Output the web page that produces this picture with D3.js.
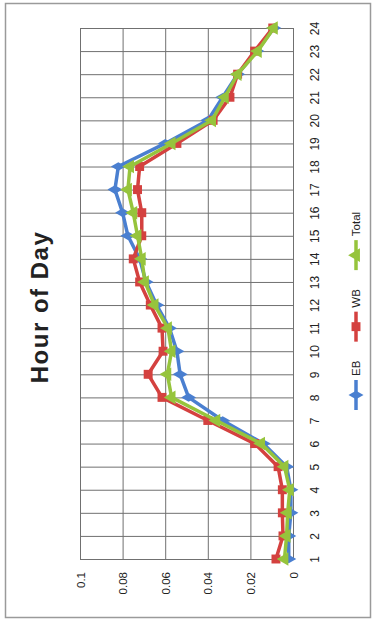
<!DOCTYPE html>
<html>
<head>
<meta charset="utf-8">
<script src="https://cdn.jsdelivr.net/npm/d3@7"></script>
<style>
  html, body { margin: 0; padding: 0; background: #fff; }
  svg { display: block; }
  text { font-family: "Liberation Sans", Arial, sans-serif; fill: #222; }
</style>
</head>
<body>
<svg id="chart" width="376" height="622"></svg>
<script>
// ---- data ----
const hours = [1,2,3,4,5,6,7,8,9,10,11,12,13,14,15,16,17,18,19,20,21,22,23,24];
const valueTicks = [0, 0.02, 0.04, 0.06, 0.08, 0.1];
const seriesNames = ["EB", "WB", "Total"];
const ebValues    = [0.002,0.002,0.001,0.001,0.003,0.014,0.033,0.049,0.053,0.0545,0.058,0.064,0.069,0.072,0.0775,0.080,0.0836,0.082,0.060,0.040,0.033,0.026,0.017,0.009];
const wbValues    = [0.008,0.0047,0.005,0.005,0.007,0.018,0.040,0.0615,0.068,0.061,0.0615,0.067,0.072,0.075,0.071,0.071,0.073,0.072,0.0545,0.0375,0.0296,0.026,0.018,0.0095];
const totalValues = [0.004,0.003,0.0025,0.0015,0.004,0.015,0.036,0.057,0.059,0.057,0.0587,0.065,0.0695,0.071,0.073,0.075,0.0775,0.0765,0.057,0.038,0.032,0.026,0.0165,0.009];
const titleText = "Hour of Day";

// ---- layout (chart is drawn rotated 90° counter-clockwise) ----
const svg = d3.select("#chart");
const plot = { left: 80, right: 293, top: 28, bottom: 559 };
const colors = ["#4a7fd0", "#d4413f", "#96c43c"];
const symbols = [d3.symbolDiamond, d3.symbolSquare, d3.symbolTriangle];
const symSizes = [65, 80, 80];

const x = d3.scaleLinear().domain([0, 0.1]).range([plot.right, plot.left]);
const y = d3.scalePoint().domain(hours).range([plot.bottom, plot.top]);

// outer border
svg.append("rect")
  .attr("x", 5.5).attr("y", 3.5).attr("width", 365).attr("height", 614)
  .attr("fill", "#fff").attr("stroke", "#9a9a9a").attr("stroke-width", 1.5);

// grid lines (vertical = value grid, horizontal = hour grid)
const gx = svg.append("g")
  .attr("transform", `translate(0,${plot.bottom})`)
  .call(d3.axisBottom(x).tickValues(valueTicks).tickSize(-(plot.bottom - plot.top)).tickFormat(""));
gx.select(".domain").remove();
gx.selectAll("line").attr("stroke", "#707070").attr("stroke-width", 1);

const gy = svg.append("g")
  .attr("transform", `translate(${plot.left},0)`)
  .call(d3.axisRight(y).tickSize(plot.right - plot.left).tickFormat(""));
gy.select(".domain").remove();
gy.selectAll("line").attr("stroke", "#707070").attr("stroke-width", 1);

// value axis labels (bottom, rotated)
const ax = svg.append("g")
  .attr("transform", `translate(0,${plot.bottom})`)
  .call(d3.axisBottom(x).tickValues(valueTicks).tickSize(0).tickFormat(d => d === 0 ? "0" : d3.format("~g")(d)));
ax.select(".domain").remove();
ax.selectAll("text")
  .attr("x", 0).attr("y", 0).attr("dy", "0.35em")
  .attr("transform", "translate(0,13) rotate(-90)")
  .attr("text-anchor", "end")
  .style("font-size", "11.5px").attr("fill", "#222");

// hour axis labels (right, rotated)
const ay = svg.append("g")
  .attr("transform", `translate(${plot.right},0)`)
  .call(d3.axisRight(y).tickSize(0));
ay.select(".domain").remove();
ay.selectAll("text")
  .attr("x", 0).attr("y", 0).attr("dy", 0)
  .attr("transform", "translate(26,0) rotate(-90)")
  .attr("text-anchor", "middle")
  .style("font-size", "12px").attr("fill", "#222");

// series
const allSeries = [ebValues, wbValues, totalValues];
const line = d3.line().x(d => x(d.v)).y(d => y(d.h));
allSeries.forEach((vals, i) => {
  const pts = hours.map((h, k) => ({ h, v: vals[k] }));
  svg.append("path").datum(pts)
    .attr("d", line).attr("fill", "none")
    .attr("stroke", colors[i]).attr("stroke-width", 3.5)
    .attr("stroke-linejoin", "round");
  svg.append("g").selectAll("path").data(pts).join("path")
    .attr("d", d3.symbol().type(symbols[i]).size(symSizes[i]))
    .attr("transform", d => `translate(${x(d.v)},${y(d.h)}) rotate(-90)`)
    .attr("fill", colors[i]);
});

// title
svg.append("text")
  .attr("transform", `translate(48,307) rotate(-90)`)
  .attr("text-anchor", "middle")
  .style("font-size", "24px").style("font-weight", "bold")
  .style("letter-spacing", "1.5px")
  .attr("fill", "#111")
  .text(titleText);

// legend (rotated, reading bottom to top)
const legX = 356;
let cursor = 410;
const lineLen = 30;
seriesNames.forEach((name, i) => {
  const g = svg.append("g");
  g.append("line")
    .attr("x1", legX).attr("x2", legX)
    .attr("y1", cursor).attr("y2", cursor - lineLen)
    .attr("stroke", colors[i]).attr("stroke-width", 3.5);
  g.append("path")
    .attr("d", d3.symbol().type(symbols[i]).size(symSizes[i])())
    .attr("transform", `translate(${legX},${cursor - lineLen / 2}) rotate(-90)`)
    .attr("fill", colors[i]);
  const t = g.append("text")
    .attr("transform", `translate(${legX + 4},${cursor - lineLen - 4}) rotate(-90)`)
    .attr("text-anchor", "start")
    .style("font-size", "11.5px").attr("fill", "#222")
    .text(name);
  const w = t.node().getComputedTextLength();
  cursor = cursor - lineLen - 4 - w - 19;
});
</script>
</body>
</html>
